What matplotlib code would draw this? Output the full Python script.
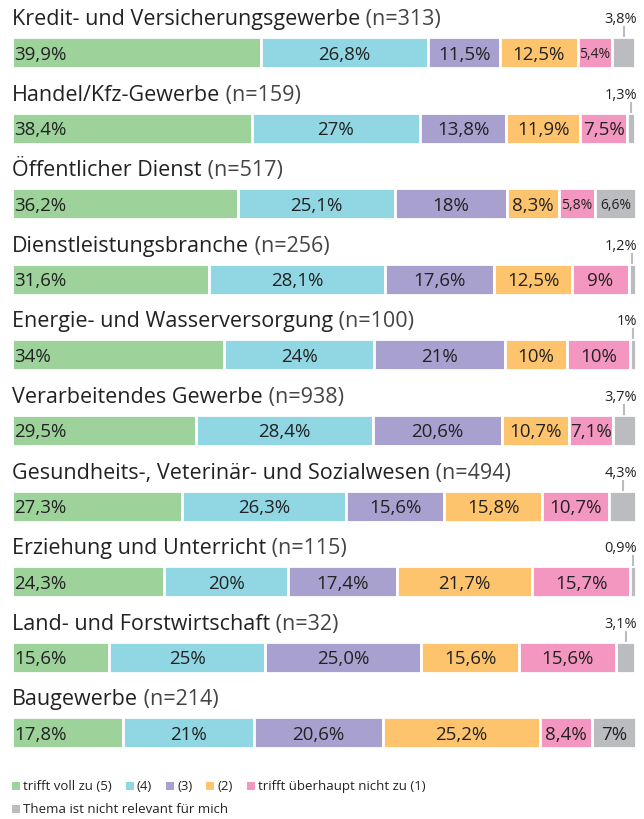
import matplotlib
matplotlib.use("Agg")
import matplotlib.pyplot as plt

# data
branches = [
    "Kredit- und Versicherungsgewerbe",
    "Handel/Kfz-Gewerbe",
    "Öffentlicher Dienst",
    "Dienstleistungsbranche",
    "Energie- und Wasserversorgung",
    "Verarbeitendes Gewerbe",
    "Gesundheits-, Veterinär- und Sozialwesen",
    "Erziehung und Unterricht",
    "Land- und Forstwirtschaft",
    "Baugewerbe",
]
n_counts = [313, 159, 517, 256, 100, 938, 494, 115, 32, 214]

voll_zu = [39.9, 38.4, 36.2, 31.6, 34, 29.5, 27.3, 24.3, 15.6, 17.8]
stufe4 = [26.8, 27, 25.1, 28.1, 24, 28.4, 26.3, 20, 25, 21]
stufe3 = [11.5, 13.8, 18, 17.6, 21, 20.6, 15.6, 17.4, 25.0, 20.6]
stufe2 = [12.5, 11.9, 8.3, 12.5, 10, 10.7, 15.8, 21.7, 15.6, 25.2]
nicht_zu = [5.4, 7.5, 5.8, 9, 10, 7.1, 10.7, 15.7, 15.6, 8.4]
nicht_relevant = [3.8, 1.3, 6.6, 1.2, 1, 3.7, 4.3, 0.9, 3.1, 7]

# labels as printed (some without decimals)
labels_voll = ["39,9%", "38,4%", "36,2%", "31,6%", "34%", "29,5%", "27,3%", "24,3%", "15,6%", "17,8%"]
labels_4 = ["26,8%", "27%", "25,1%", "28,1%", "24%", "28,4%", "26,3%", "20%", "25%", "21%"]
labels_3 = ["11,5%", "13,8%", "18%", "17,6%", "21%", "20,6%", "15,6%", "17,4%", "25,0%", "20,6%"]
labels_2 = ["12,5%", "11,9%", "8,3%", "12,5%", "10%", "10,7%", "15,8%", "21,7%", "15,6%", "25,2%"]
labels_1 = ["5,4%", "7,5%", "5,8%", "9%", "10%", "7,1%", "10,7%", "15,7%", "15,6%", "8,4%"]
labels_nr = ["3,8%", "1,3%", "6,6%", "1,2%", "1%", "3,7%", "4,3%", "0,9%", "3,1%", "7%"]

legend_names = ["trifft voll zu (5)", "(4)", "(3)", "(2)", "trifft überhaupt nicht zu (1)",
                "Thema ist nicht relevant für mich"]
colors = ["#9dd39b", "#90d6e3", "#a8a0cf", "#fec46d", "#f497c0", "#bbbcbf"]

series = [voll_zu, stufe4, stufe3, stufe2, nicht_zu, nicht_relevant]
series_labels = [labels_voll, labels_4, labels_3, labels_2, labels_1, labels_nr]

plt.rcParams["font.family"] = ["Open Sans", "DejaVu Sans"]
TXT = "#222222"

W, H = 644, 820
fig = plt.figure(figsize=(W / 100, H / 100), dpi=100)
# x: percent, y: pixel rows (inverted)
ax = fig.add_axes([12 / W, 0, 624 / W, 1])
ax.set_xlim(0, 100)
ax.set_ylim(H, 0)
ax.axis("off")

pitch = 75.6
title_y0 = 25
bar_y0 = 53.5
bar_h = 31

for i, name in enumerate(branches):
    ty = title_y0 + i * pitch
    by = bar_y0 + i * pitch
    t = ax.text(0, ty, name, fontsize=15.5, color=TXT, va="baseline", ha="left")
    ax.annotate(" (n=%d)" % n_counts[i], xy=(1, ty), xycoords=(t, "data"),
                fontsize=15.5, color="#444444", va="baseline", ha="left")

    left = 0
    for k in range(len(series)):
        v = series[k][i]
        ax.barh(by, v, left=left, height=bar_h, color=colors[k],
                edgecolor="white", linewidth=2)
        lab = series_labels[k][i]
        if k == 0:
            ax.text(left + 0.4, by + 1, lab, fontsize=13.5, color=TXT,
                    ha="left", va="center")
        elif k == 5 and v < 5:
            cx = left + v / 2
            ax.plot([cx, cx], [by - bar_h / 2 - 1, by - bar_h / 2 - 10],
                    color="#bbbcbf", lw=1.5)
            ax.text(100.2, ty - 2, lab, fontsize=10.5, color=TXT,
                    ha="right", va="baseline")
        else:
            fs = 10 if v < 7 else 13.5
            ax.text(left + v / 2, by + 1, lab, fontsize=fs, color=TXT,
                    ha="center", va="center")
        left += v

# legend
leg_rows = [(787, [0, 1, 2, 3, 4]), (810, [5])]
px = 100 / 624
for ly, items in leg_rows:
    x = 0
    for k in items:
        ax.scatter([x + 4 * px], [ly], marker="s", s=40, color=colors[k], linewidths=0)
        t = ax.text(x + 11 * px, ly, legend_names[k], fontsize=9.5, color=TXT,
                    va="center", ha="left")
        fig.canvas.draw()
        bb = t.get_window_extent()
        x = ax.transData.inverted().transform((bb.x1, 0))[0] + 14 * px

fig.savefig("out.png", dpi=100)
